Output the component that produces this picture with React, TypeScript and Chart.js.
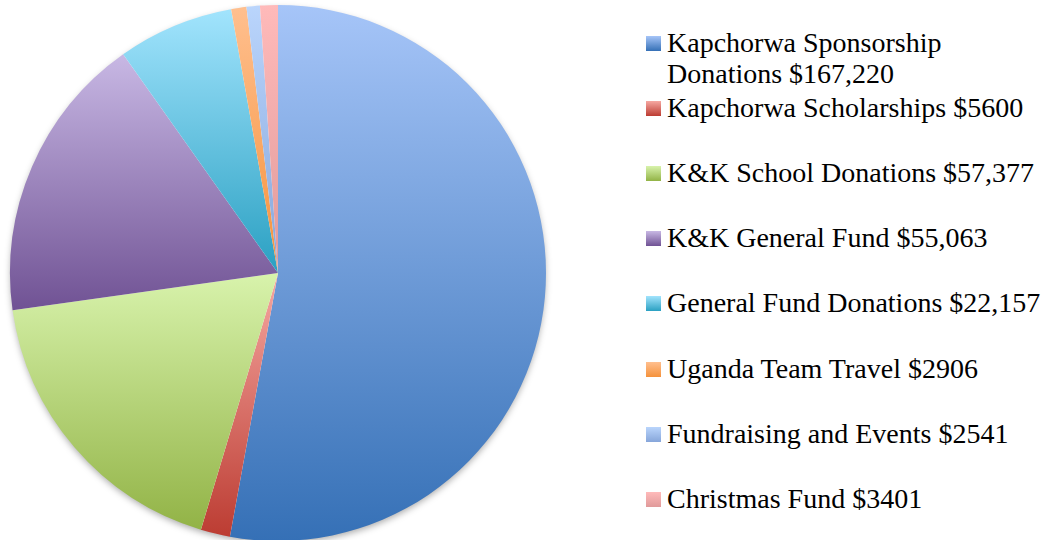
import React, { useEffect, useRef } from "react";
import { Chart, registerables } from "chart.js";

Chart.register(...registerables);

const categories = [
  "Kapchorwa Sponsorship Donations",
  "Kapchorwa Scholarships",
  "K&K School Donations",
  "K&K General Fund",
  "General Fund Donations",
  "Uganda Team Travel",
  "Fundraising and Events",
  "Christmas Fund",
];
const amountLabels = ["$167,220", "$5600", "$57,377", "$55,063", "$22,157", "$2906", "$2541", "$3401"];
const values = [167220, 5600, 57377, 55063, 22157, 2906, 2541, 3401];
const topColors = ["#A6C5F8", "#F6A8A2", "#D8F3AC", "#C8B8E4", "#A2E4FD", "#FFBF8E", "#BAD5FC", "#FFBABA"];
const bottomColors = ["#3570B6", "#BC3C32", "#92B346", "#705294", "#2AA0C2", "#F5923C", "#86A6DA", "#E09A9A"];

const FONT = '"Liberation Serif", "Times New Roman", serif';

const shadowPlugin = {
  id: "pieShadow",
  beforeDatasetsDraw(chart: any) {
    const area = chart.chartArea;
    if (!area) return;
    const x = (area.left + area.right) / 2;
    const y = (area.top + area.bottom) / 2;
    const r = Math.min(area.right - area.left, area.bottom - area.top) / 2;
    const ctx = chart.ctx;
    ctx.save();
    ctx.shadowColor = "rgba(0,0,0,0.35)";
    ctx.shadowBlur = 7;
    ctx.shadowOffsetX = 0;
    ctx.shadowOffsetY = 3;
    ctx.fillStyle = "#ffffff";
    ctx.beginPath();
    ctx.arc(x, y, r - 1, 0, Math.PI * 2);
    ctx.fill();
    ctx.restore();
  },
};

function sliceYRange(i: number, cy: number, r: number): [number, number] {
  const total = values.reduce((a, b) => a + b, 0);
  let cum = 0;
  for (let k = 0; k < i; k++) cum += values[k];
  const a0 = -Math.PI / 2 + (2 * Math.PI * cum) / total;
  const a1 = a0 + (2 * Math.PI * values[i]) / total;
  const ys = [cy, cy + r * Math.sin(a0), cy + r * Math.sin(a1)];
  for (let k = -2; k <= 4; k++) {
    const a = -Math.PI / 2 + k * Math.PI;
    if (a >= a0 && a <= a1) ys.push(cy + r * Math.sin(a));
  }
  return [Math.min(...ys), Math.max(...ys)];
}

export default function App() {
  const canvasRef = useRef<HTMLCanvasElement | null>(null);

  useEffect(() => {
    document.body.style.margin = "0";
    const canvas = canvasRef.current;
    if (!canvas) return;
    const chart = new Chart(canvas, {
      type: "pie",
      data: {
        labels: categories.map((c, i) => `${c} ${amountLabels[i]}`),
        datasets: [
          {
            data: values,
            borderWidth: 0,
            backgroundColor: (ctx: any) => {
              const area = ctx.chart.chartArea;
              const i = ctx.dataIndex;
              if (!area || i === undefined) return topColors[i ?? 0];
              const cy = (area.top + area.bottom) / 2;
              const r = Math.min(area.right - area.left, area.bottom - area.top) / 2;
              const [y0, y1] = sliceYRange(i, cy, r);
              const g = ctx.chart.ctx.createLinearGradient(0, y0, 0, Math.max(y1, y0 + 1));
              g.addColorStop(0, topColors[i]);
              g.addColorStop(1, bottomColors[i]);
              return g;
            },
          },
        ],
      },
      options: {
        animation: false,
        responsive: false,
        maintainAspectRatio: false,
        layout: { padding: { left: 10, right: 14, top: 5, bottom: 5 } },
        plugins: {
          legend: { display: false },
          tooltip: { enabled: false },
        },
      },
      plugins: [shadowPlugin],
    });
    return () => chart.destroy();
  }, []);

  const baselines = [52, 117, 182, 247, 312, 378, 443, 508];

  return (
    <div style={{ position: "fixed", left: 0, top: 0, width: 1045, height: 540, overflow: "hidden", background: "#fff" }}>
      <canvas ref={canvasRef} width={560} height={546} style={{ position: "absolute", left: 0, top: 0, width: 560, height: 546 }} />
      {categories.map((c, i) => (
        <div key={c}>
          <div
            style={{
              position: "absolute",
              left: 646,
              top: baselines[i] - 16,
              width: 15,
              height: 15,
              background: `linear-gradient(${topColors[i]}, ${bottomColors[i]})`,
            }}
          />
          <div
            style={{
              position: "absolute",
              left: 667,
              top: baselines[i] - 25,
              width: 378,
              fontFamily: FONT,
              fontSize: 28,
              lineHeight: "31px",
              color: "#000",
              whiteSpace: "normal",
            }}
          >
            {c} {amountLabels[i]}
          </div>
        </div>
      ))}
    </div>
  );
}
